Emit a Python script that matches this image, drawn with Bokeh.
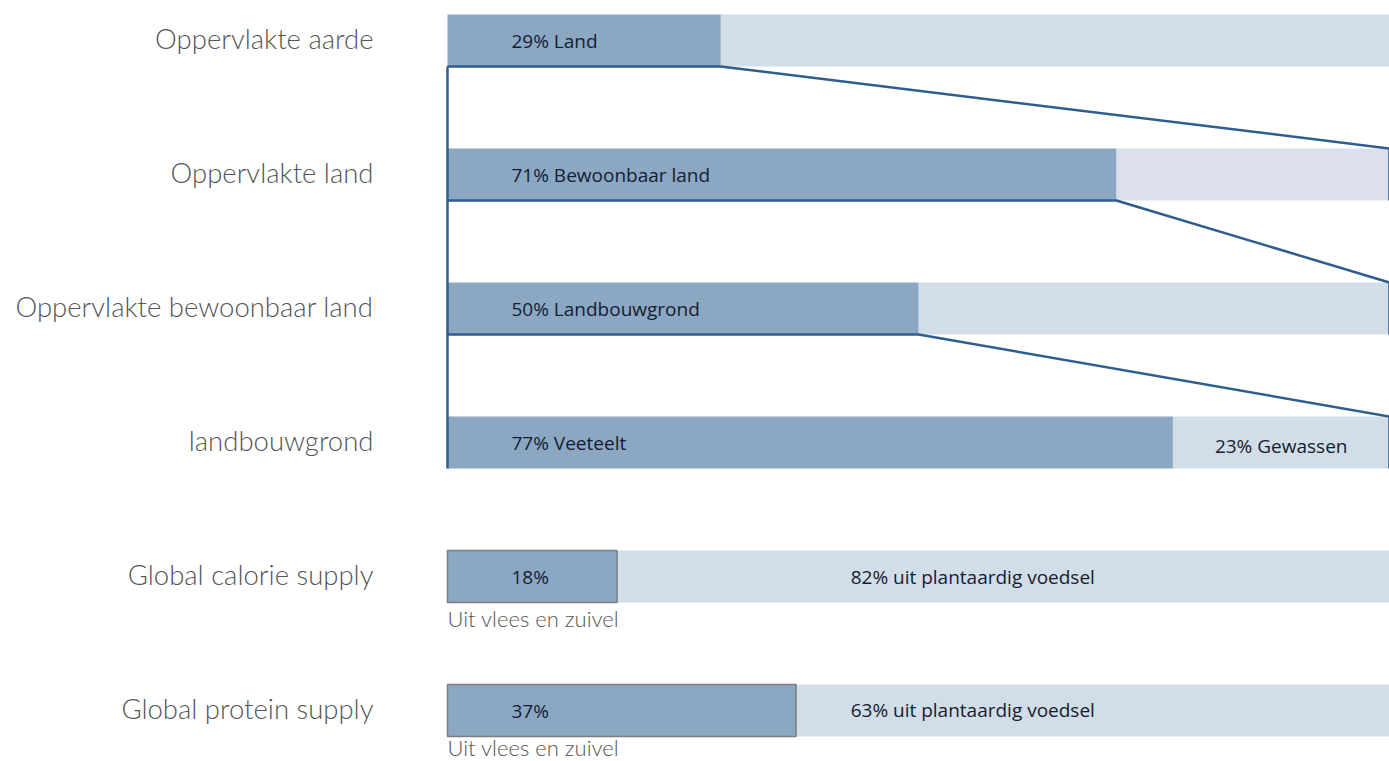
from bokeh.plotting import figure
from bokeh.models import ColumnDataSource, Range1d
from bokeh.core.properties import value
from bokeh.embed import file_html
from bokeh.resources import INLINE

# ---- data ----
categories = ["Oppervlakte aarde", "Oppervlakte land", "Oppervlakte bewoonbaar land",
              "landbouwgrond", "Global calorie supply", "Global protein supply"]
share = [29, 71, 50, 77, 18, 37]
first_labels = ["29% Land", "71% Bewoonbaar land", "50% Landbouwgrond",
                "77% Veeteelt", "18%", "37%"]
second_labels = ["", "", "", "23% Gewassen",
                 "82% uit plantaardig voedsel", "63% uit plantaardig voedsel"]
sub_labels = ["", "", "", "", "Uit vlees en zuivel", "Uit vlees en zuivel"]
total = 100

# ---- styling / layout ----
DARK = "#8BA7C2"
LIGHT = "#D1DDE7"
LAVENDER = "#DCDFEE"
LINE = "#2E5D8E"
PX = 134.0          # pixels per row
TOP = 40            # pixel centre of first row
H = 52 / PX         # bar thickness

W, HT = 1389, 761
p = figure(width=W, height=HT, output_backend="svg", toolbar_location=None,
           x_range=Range1d(-47.45, 100),
           y_range=Range1d((HT - TOP) / PX, -TOP / PX),
           min_border=0, min_border_left=0, min_border_right=0,
           min_border_top=0, min_border_bottom=0)
p.axis.visible = False
p.grid.visible = False
p.outline_line_color = None
p.background_fill_color = "white"

n = len(categories)
ys = list(range(n))
light_colors = [LAVENDER if i == 1 else LIGHT for i in ys]
outline = [None, None, None, None, "#7d7d7d", "#7d7d7d"]

src = ColumnDataSource(dict(y=ys, v=share, total=[total] * n, lc=light_colors,
                            oc=outline, cat=categories, l1=first_labels,
                            l2=second_labels, sub=sub_labels,
                            zero=[0] * n))

# light (remainder) segments
p.hbar(y="y", left="v", right="total", height=H, source=src,
       fill_color="lc", line_color=None)
# dark segments
p.hbar(y="y", left="zero", right="v", height=H, source=src,
       fill_color=DARK, line_color="oc", line_width=1.5)

# connector lines (zoom funnels)
xs_l, ys_l = [], []
bottoms = [i + H / 2 for i in ys]
tops = [i - H / 2 for i in ys]
xs_l.append([0, 0]); ys_l.append([bottoms[0], bottoms[3]])
for i in range(3):
    xs_l.append([0, share[i], total, total])
    ys_l.append([bottoms[i], bottoms[i], tops[i + 1], bottoms[i + 1]])
p.multi_line(xs_l, ys_l, line_color=LINE, line_width=2.5)

# category labels on the left
p.text(x="zero", y="y", text="cat", source=src, x_offset=-74, y_offset=-2,
       text_align="right", text_baseline="middle",
       text_font=value("Lato Light"), text_font_size="27.5px", text_color="#555555")

# labels inside dark segments
p.text(x="zero", y="y", text="l1", source=src, x_offset=64,
       text_align="left", text_baseline="middle",
       text_font=value("Open Sans"), text_font_size="19px", text_color="#152033")

# labels inside light segments
row3 = 3
p.text(x=[(share[row3] + total) / 2], y=[row3], text=[second_labels[row3]],
       y_offset=3, text_align="center", text_baseline="middle",
       text_font=value("Open Sans"), text_font_size="19px", text_color="#152033")
p.text(x=[42.8, 42.8], y=[4, 5], text=second_labels[4:6], y_offset=[0, -1],
       text_align="left", text_baseline="middle",
       text_font=value("Open Sans"), text_font_size="19px", text_color="#152033")

# sub labels below bars
p.text(x=[0, 0], y=[bottoms[4], bottoms[5]], text=sub_labels[4:6], y_offset=[16, 11],
       text_align="left", text_baseline="middle",
       text_font=value("Lato Light"), text_font_size="22px", text_color="#555555")

open("out.html", "w").write(file_html(p, INLINE))
